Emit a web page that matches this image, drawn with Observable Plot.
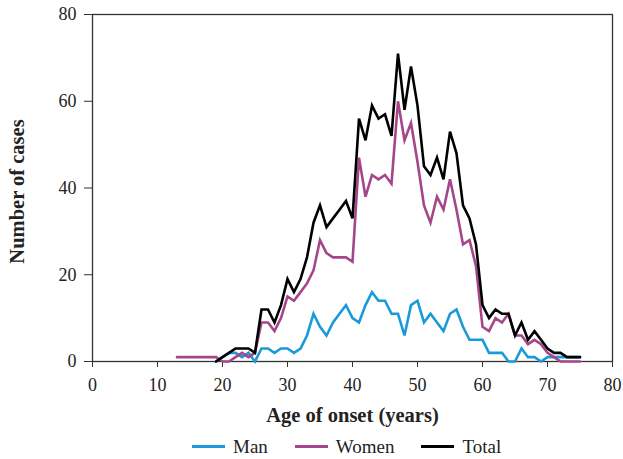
<!DOCTYPE html>
<html>
<head>
<meta charset="utf-8">
<script src="https://cdn.jsdelivr.net/npm/d3@7"></script>
<script src="https://cdn.jsdelivr.net/npm/@observablehq/plot@0.6"></script>
<style>
  body { margin: 0; background: #fff; font-family: "Liberation Serif", "DejaVu Serif", serif; }
  #legend { display: flex; align-items: center; height: 25px; padding-left: 192px; font-size: 19px; color: #222; }
  #legend .item { display: flex; align-items: center; margin-right: 27px; }
  #legend .sw { width: 33px; height: 3px; margin-right: 8px; }
</style>
</head>
<body>
<div id="chart"></div>
<div id="legend"></div>
<script>
const xTicks = [0, 10, 20, 30, 40, 50, 60, 70, 80];
const yTicks = [0, 20, 40, 60, 80];

const manAges = [19,20,21,22,23,24,25,26,27,28,29,30,31,32,33,34,35,36,37,38,39,40,41,42,43,44,45,46,47,48,49,50,51,52,53,54,55,56,57,58,59,60,61,62,63,64,65,66,67,68,69,70,71,72,73,74,75];
const manCases = [0,1,2,2,1,2,0,3,3,2,3,3,2,3,6,11,8,6,9,11,13,10,9,13,16,14,14,11,11,6,13,14,9,11,9,7,11,12,8,5,5,5,2,2,2,0,0,3,1,1,0,1,1,1,1,1,1];

const womenAges = [13,14,15,16,17,18,19,20,21,22,23,24,25,26,27,28,29,30,31,32,33,34,35,36,37,38,39,40,41,42,43,44,45,46,47,48,49,50,51,52,53,54,55,56,57,58,59,60,61,62,63,64,65,66,67,68,69,70,71,72,73,74,75];
const womenCases = [1,1,1,1,1,1,1,0,0,1,2,1,2,9,9,7,10,15,14,16,18,21,28,25,24,24,24,23,47,38,43,42,43,41,60,51,55,46,36,32,38,35,42,35,27,28,22,8,7,10,9,11,6,6,4,5,4,2,1,0,0,0,0];

const totalAges = [19,20,21,22,23,24,25,26,27,28,29,30,31,32,33,34,35,36,37,38,39,40,41,42,43,44,45,46,47,48,49,50,51,52,53,54,55,56,57,58,59,60,61,62,63,64,65,66,67,68,69,70,71,72,73,74,75];
const totalCases = [0,1,2,3,3,3,2,12,12,9,13,19,16,19,24,32,36,31,33,35,37,33,56,51,59,56,57,52,71,58,68,59,45,43,47,42,53,48,36,33,27,13,10,12,11,11,6,9,5,7,5,3,2,2,1,1,1];

const seriesNames = ["Man", "Women", "Total"];
const seriesColors = ["#1a9ad8", "#a6468a", "#000000"];

const rows = [];
manAges.forEach((a, i) => rows.push({age: a, cases: manCases[i], series: "Man"}));
womenAges.forEach((a, i) => rows.push({age: a, cases: womenCases[i], series: "Women"}));
totalAges.forEach((a, i) => rows.push({age: a, cases: totalCases[i], series: "Total"}));

const chart = Plot.plot({
  width: 623,
  height: 434,
  marginLeft: 92,
  marginRight: 11,
  marginTop: 14,
  marginBottom: 73,
  style: {fontFamily: "Liberation Serif, DejaVu Serif, serif", fontSize: "18px", color: "#222", background: "#fff"},
  x: {domain: [0, 80]},
  y: {domain: [0, 80]},
  color: {domain: seriesNames, range: seriesColors},
  marks: [
    Plot.frame({stroke: "#333", strokeWidth: 1.3}),
    Plot.axisX({ticks: xTicks, tickSize: 6, tickPadding: 11, label: null, stroke: "#333"}),
    Plot.axisY({ticks: yTicks, tickSize: 8, tickPadding: 8, label: null, stroke: "#333"}),
    Plot.line(rows, {x: "age", y: "cases", z: "series", stroke: "series", strokeWidth: 2.6, strokeLinejoin: "miter", strokeMiterlimit: 4}),
    Plot.text(["Age of onset (years)"], {frameAnchor: "bottom", dy: 60, fontWeight: "bold", fontSize: 20.5, fill: "#222"}),
    Plot.text(["Number of cases"], {frameAnchor: "left", textAnchor: "middle", dx: -75, dy: 3.5, rotate: -90, fontWeight: "bold", fontSize: 20.5, fill: "#222"})
  ]
});
document.getElementById("chart").appendChild(chart);

const legend = document.getElementById("legend");
seriesNames.forEach((name, i) => {
  const item = document.createElement("div");
  item.className = "item";
  const sw = document.createElement("div");
  sw.className = "sw";
  sw.style.background = seriesColors[i];
  const label = document.createElement("span");
  label.textContent = name;
  item.appendChild(sw);
  item.appendChild(label);
  legend.appendChild(item);
});
</script>
</body>
</html>
